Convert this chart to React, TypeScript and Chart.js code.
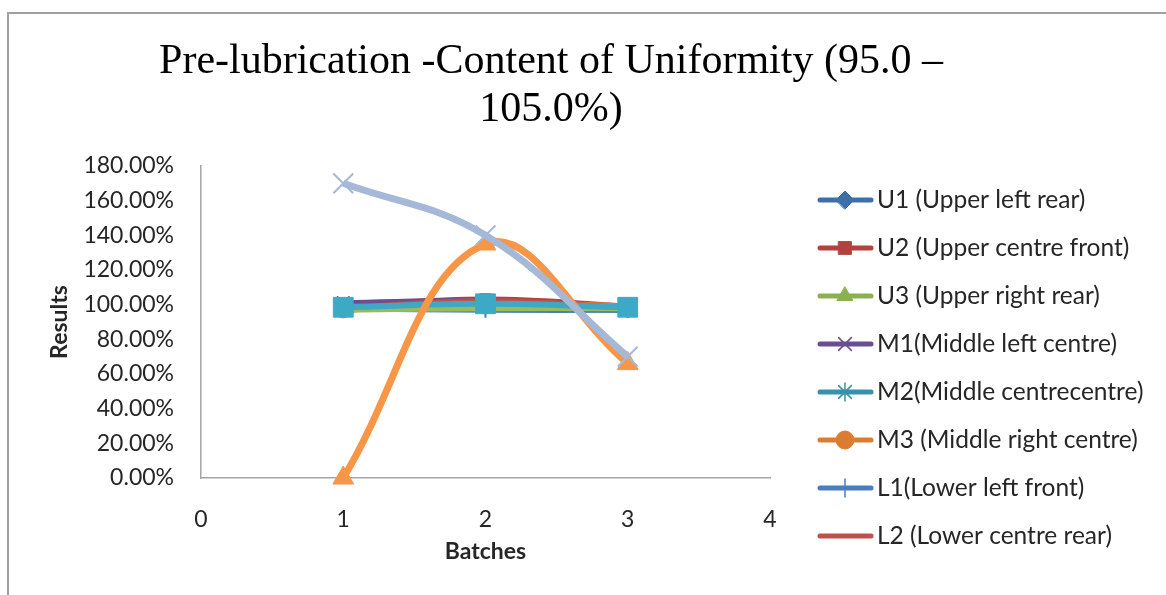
import React, { useEffect, useRef } from 'react';
import { Chart, registerables } from 'chart.js';
import { drawPoint } from 'chart.js/helpers';

Chart.register(...registerables);

const titleLines = ['Pre-lubrication -Content of Uniformity (95.0 –', '105.0%)'];
const xAxisTitle = 'Batches';
const yAxisTitle = 'Results';
const batches = [1, 2, 3];
const xTicks = [0, 1, 2, 3, 4];

const seriesNames = [
  'U1 (Upper left rear)',
  'U2 (Upper centre front)',
  'U3 (Upper right rear)',
  'M1(Middle left centre)',
  'M2(Middle centrecentre)',
  'M3 (Middle right centre)',
  'L1(Lower left front)',
  'L2 (Lower centre rear)',
  'L3 (Lower right front)',
  'Series10',
  'Series11',
  'Series12',
];

const u1 = [0.97, 1.01, 0.98];
const u2 = [0.99, 1.03, 0.99];
const u3 = [0.98, 0.98, 0.97];
const m1 = [1.01, 1.02, 0.98];
const m2 = [0.99, 0.99, 0.97];
const m3 = [0.97, 1.01, 0.99];
const l1 = [0.98, 0.97, 0.97];
const l2 = [0.98, 1.02, 0.98];
const l3 = [0.97, 0.98, 0.98];
const s10 = [0.985, 1.005, 0.985];
const s11 = [0.0, 1.35, 0.66];
const s12 = [1.70, 1.40, 0.70];

const seriesValues = [u1, u2, u3, m1, m2, m3, l1, l2, l3, s10, s11, s12];
const seriesColors = ['#3D6FA9', '#B3413E', '#8AB04F', '#6B4E8F', '#3692AA', '#DB7D30', '#4A7EBE', '#C0504D', '#9BBB59', '#3EA9C4', '#F79646', '#A6B8D8'];
const seriesMarkers = ['rectRot', 'rect', 'triangle', 'crossRot', 'star', 'circle', 'cross', false, 'triangle', 'rect', 'triangle', 'crossRot'];
const markerRadius = [8, 8, 8, 9, 8, 8, 8, 0, 8, 14, 12, 14];
const lineWidths = [6, 6, 6, 6, 6, 6, 6, 6, 6, 6, 7, 7];
const legendCount = 8;

const FONT = 'Lato';
const TEXT = '#262626';
const AXIS = '#A6A6A6';

const legendPlugin = {
  id: 'excelLegend',
  afterDraw(chart: any) {
    const ctx = chart.ctx;
    ctx.save();
    for (let i = 0; i < legendCount; i++) {
      const y = 200 + i * 48;
      const col = seriesColors[i];
      ctx.strokeStyle = col;
      ctx.lineWidth = 5;
      ctx.lineCap = 'round';
      ctx.beginPath();
      ctx.moveTo(820, y);
      ctx.lineTo(871, y);
      ctx.stroke();
      const style = seriesMarkers[i];
      if (style) {
        ctx.fillStyle = col;
        ctx.strokeStyle = col;
        const isLine = style === 'cross' || style === 'crossRot' || style === 'star';
        ctx.lineWidth = isLine ? 1.5 : 1;
        drawPoint(ctx, { pointStyle: style, radius: 9, rotation: 0, borderWidth: ctx.lineWidth }, 845, y);
      }
      ctx.fillStyle = TEXT;
      ctx.font = `24.5px ${FONT}`;
      ctx.textAlign = 'left';
      ctx.textBaseline = 'middle';
      ctx.fillText(seriesNames[i], 877, y);
    }
    ctx.restore();
  },
};

export default function App() {
  const ref = useRef<HTMLCanvasElement>(null);
  useEffect(() => {
    if (!ref.current) return;
    const n = seriesValues.length;
    const datasets = seriesValues.map((vals, i) => ({
      label: seriesNames[i],
      data: batches.map((b, j) => ({ x: b, y: vals[j] })),
      showLine: true,
      tension: 0.4,
      borderColor: seriesColors[i],
      backgroundColor: seriesColors[i],
      borderWidth: lineWidths[i],
      pointStyle: seriesMarkers[i] as any,
      pointRadius: markerRadius[i],
      pointBorderWidth: seriesMarkers[i] === 'crossRot' || seriesMarkers[i] === 'cross' || seriesMarkers[i] === 'star' ? 2 : 1,
      pointBorderColor: seriesColors[i],
      pointBackgroundColor: seriesColors[i],
      clip: false as any,
      order: n - i,
    }));
    const chart = new Chart(ref.current, {
      type: 'scatter',
      data: { datasets },
      options: {
        animation: false,
        responsive: false,
        layout: { padding: { left: 0, right: 64, top: 0, bottom: 0 } },
        plugins: {
          legend: { display: false },
          tooltip: { enabled: false },
          title: {
            display: true,
            text: titleLines,
            color: '#000',
            font: { family: 'Liberation Serif', size: 42, weight: 'normal', lineHeight: 48 / 42 },
            padding: { top: 38, bottom: 32 },
          },
        },
        scales: {
          x: {
            type: 'linear',
            min: 0,
            max: 4,
            afterBuildTicks: (s: any) => { s.ticks = xTicks.map((v) => ({ value: v })); },
            ticks: { color: TEXT, font: { family: FONT, size: 23 }, padding: 28 },
            grid: { display: false, drawTicks: false },
            border: { display: true, color: AXIS, width: 1.5 },
            title: { display: true, text: xAxisTitle, color: TEXT, font: { family: FONT, size: 23, weight: 'bold' }, padding: { top: 0, bottom: 30 } },
            afterFit: (s: any) => { s.height = 117; },
          },
          y: {
            type: 'linear',
            min: 0,
            max: 1.8,
            ticks: { stepSize: 0.2, color: TEXT, font: { family: FONT, size: 23 }, padding: 27, callback: (v: any) => (Number(v) * 100).toFixed(2) + '%' },
            grid: { display: false, drawTicks: false },
            border: { display: true, color: AXIS, width: 1.5 },
            title: { display: true, text: yAxisTitle, color: TEXT, font: { family: FONT, size: 23, weight: 'bold' }, padding: { top: 46, bottom: 0 } },
            afterFit: (s: any) => { s.width = 201; },
          },
          y2: {
            type: 'linear',
            position: 'right',
            min: 0,
            max: 1,
            display: true,
            ticks: { display: false },
            grid: { display: false, drawTicks: false },
            border: { display: false },
            afterFit: (s: any) => { s.width = 332; },
          },
        },
      },
      plugins: [legendPlugin],
    });
    return () => chart.destroy();
  }, []);
  return (
    <div style={{ position: 'fixed', left: 0, top: 0, width: 1166, height: 595, background: '#fff' }}>
      <div style={{ position: 'absolute', left: 7, top: 12, right: -10, bottom: -10, borderTop: '2px solid #A0A0A0', borderLeft: '2px solid #A0A0A0' }} />
      <canvas ref={ref} width={1166} height={595} style={{ position: 'absolute', left: 0, top: 0, display: 'block' }} />
    </div>
  );
}
